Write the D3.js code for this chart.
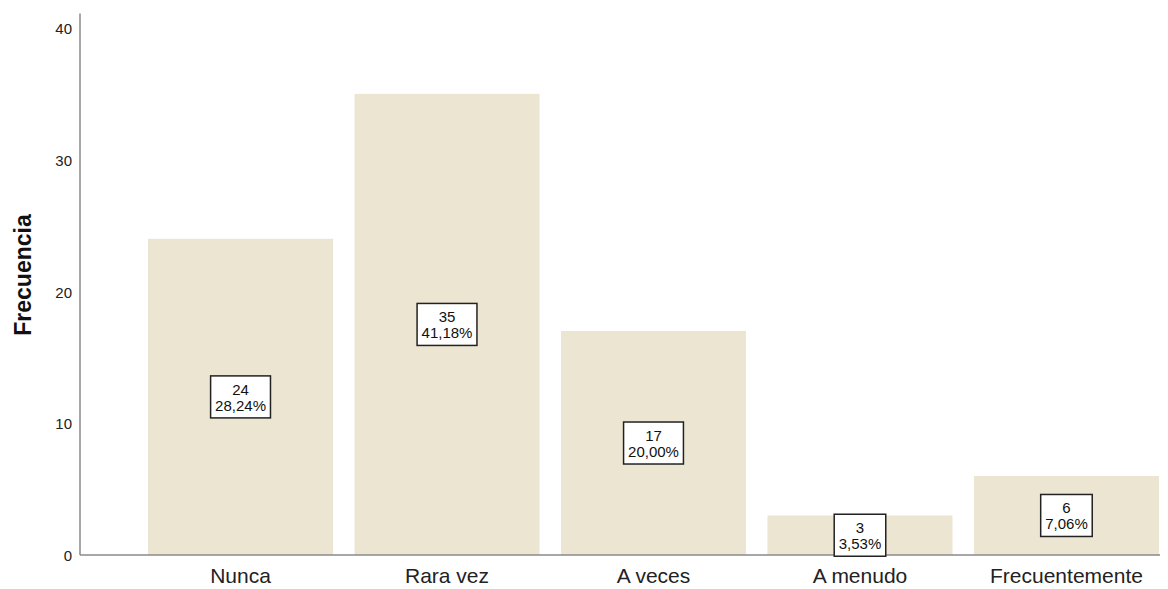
<!DOCTYPE html>
<html>
<head>
<meta charset="utf-8">
<script src="https://cdn.jsdelivr.net/npm/d3@7"></script>
<style>
  body { margin: 0; background: #fff; }
  text { font-family: "Liberation Sans", Arial, sans-serif; }
</style>
</head>
<body>
<div id="chart"></div>
<script>
var categories = ["Nunca", "Rara vez", "A veces", "A menudo", "Frecuentemente"];
var counts = [24, 35, 17, 3, 6];
var percents = ["28,24%", "41,18%", "20,00%", "3,53%", "7,06%"];
var yTicks = [0, 10, 20, 30, 40];

var width = 1168, height = 589;

var svg = d3.select("#chart").append("svg")
  .attr("width", width)
  .attr("height", height);

var x = d3.scaleBand()
  .domain(categories)
  .range([137.3, 1169.7])
  .paddingInner(0.104)
  .paddingOuter(0.052);

var y = d3.scaleLinear()
  .domain([0, 40])
  .range([555, 28]);

// bars
svg.selectAll("rect.bar")
  .data(counts)
  .enter().append("rect")
  .attr("class", "bar")
  .attr("x", function (d, i) { return x(categories[i]); })
  .attr("y", function (d) { return y(d); })
  .attr("width", x.bandwidth())
  .attr("height", function (d) { return y(0) - y(d); })
  .attr("fill", "#ece5d1");

// axes
svg.append("line")
  .attr("x1", 80).attr("x2", 80)
  .attr("y1", y(41.1)).attr("y2", y(0))
  .attr("stroke", "#8a8a8a").attr("stroke-width", 1.5);

svg.append("line")
  .attr("x1", 80).attr("x2", 1160)
  .attr("y1", y(0)).attr("y2", y(0))
  .attr("stroke", "#8a8a8a").attr("stroke-width", 1.5);

var yAxis = svg.append("g")
  .attr("transform", "translate(80,0)")
  .call(d3.axisLeft(y).tickValues(yTicks).tickSize(0).tickPadding(8));
yAxis.select(".domain").remove();
yAxis.selectAll("text")
  .attr("font-size", 15)
  .attr("fill", "#222")
  .attr("dy", "0.38em");

var xAxis = svg.append("g")
  .attr("transform", "translate(0," + y(0) + ")")
  .call(d3.axisBottom(x).tickSize(0));
xAxis.select(".domain").remove();
xAxis.selectAll("text")
  .attr("y", 28)
  .attr("dy", 0)
  .attr("font-size", 21)
  .attr("fill", "#222");

svg.append("text")
  .attr("transform", "translate(31," + 275 + ") rotate(-90)")
  .attr("text-anchor", "middle")
  .attr("font-size", 23)
  .attr("font-weight", "bold")
  .attr("fill", "#111")
  .text("Frecuencia");

// value labels
var labels = svg.selectAll("g.lab")
  .data(counts)
  .enter().append("g")
  .attr("class", "lab")
  .attr("transform", function (d, i) {
    return "translate(" + (x(categories[i]) + x.bandwidth() / 2) + "," + (y(d / 2)) + ")";
  });

labels.each(function (d, i) {
  var g = d3.select(this);
  var t1 = g.append("text").attr("text-anchor", "middle").attr("font-size", 15)
    .attr("y", -2).attr("fill", "#111").text(d);
  var t2 = g.append("text").attr("text-anchor", "middle").attr("font-size", 15)
    .attr("y", 14).attr("fill", "#111").text(percents[i]);
  var w = Math.max(t1.node().getComputedTextLength(), t2.node().getComputedTextLength()) + 9;
  g.insert("rect", "text")
    .attr("x", -w / 2).attr("y", -21)
    .attr("width", w).attr("height", 42)
    .attr("fill", "#fff")
    .attr("stroke", "#222").attr("stroke-width", 1.5);
});
</script>
</body>
</html>
